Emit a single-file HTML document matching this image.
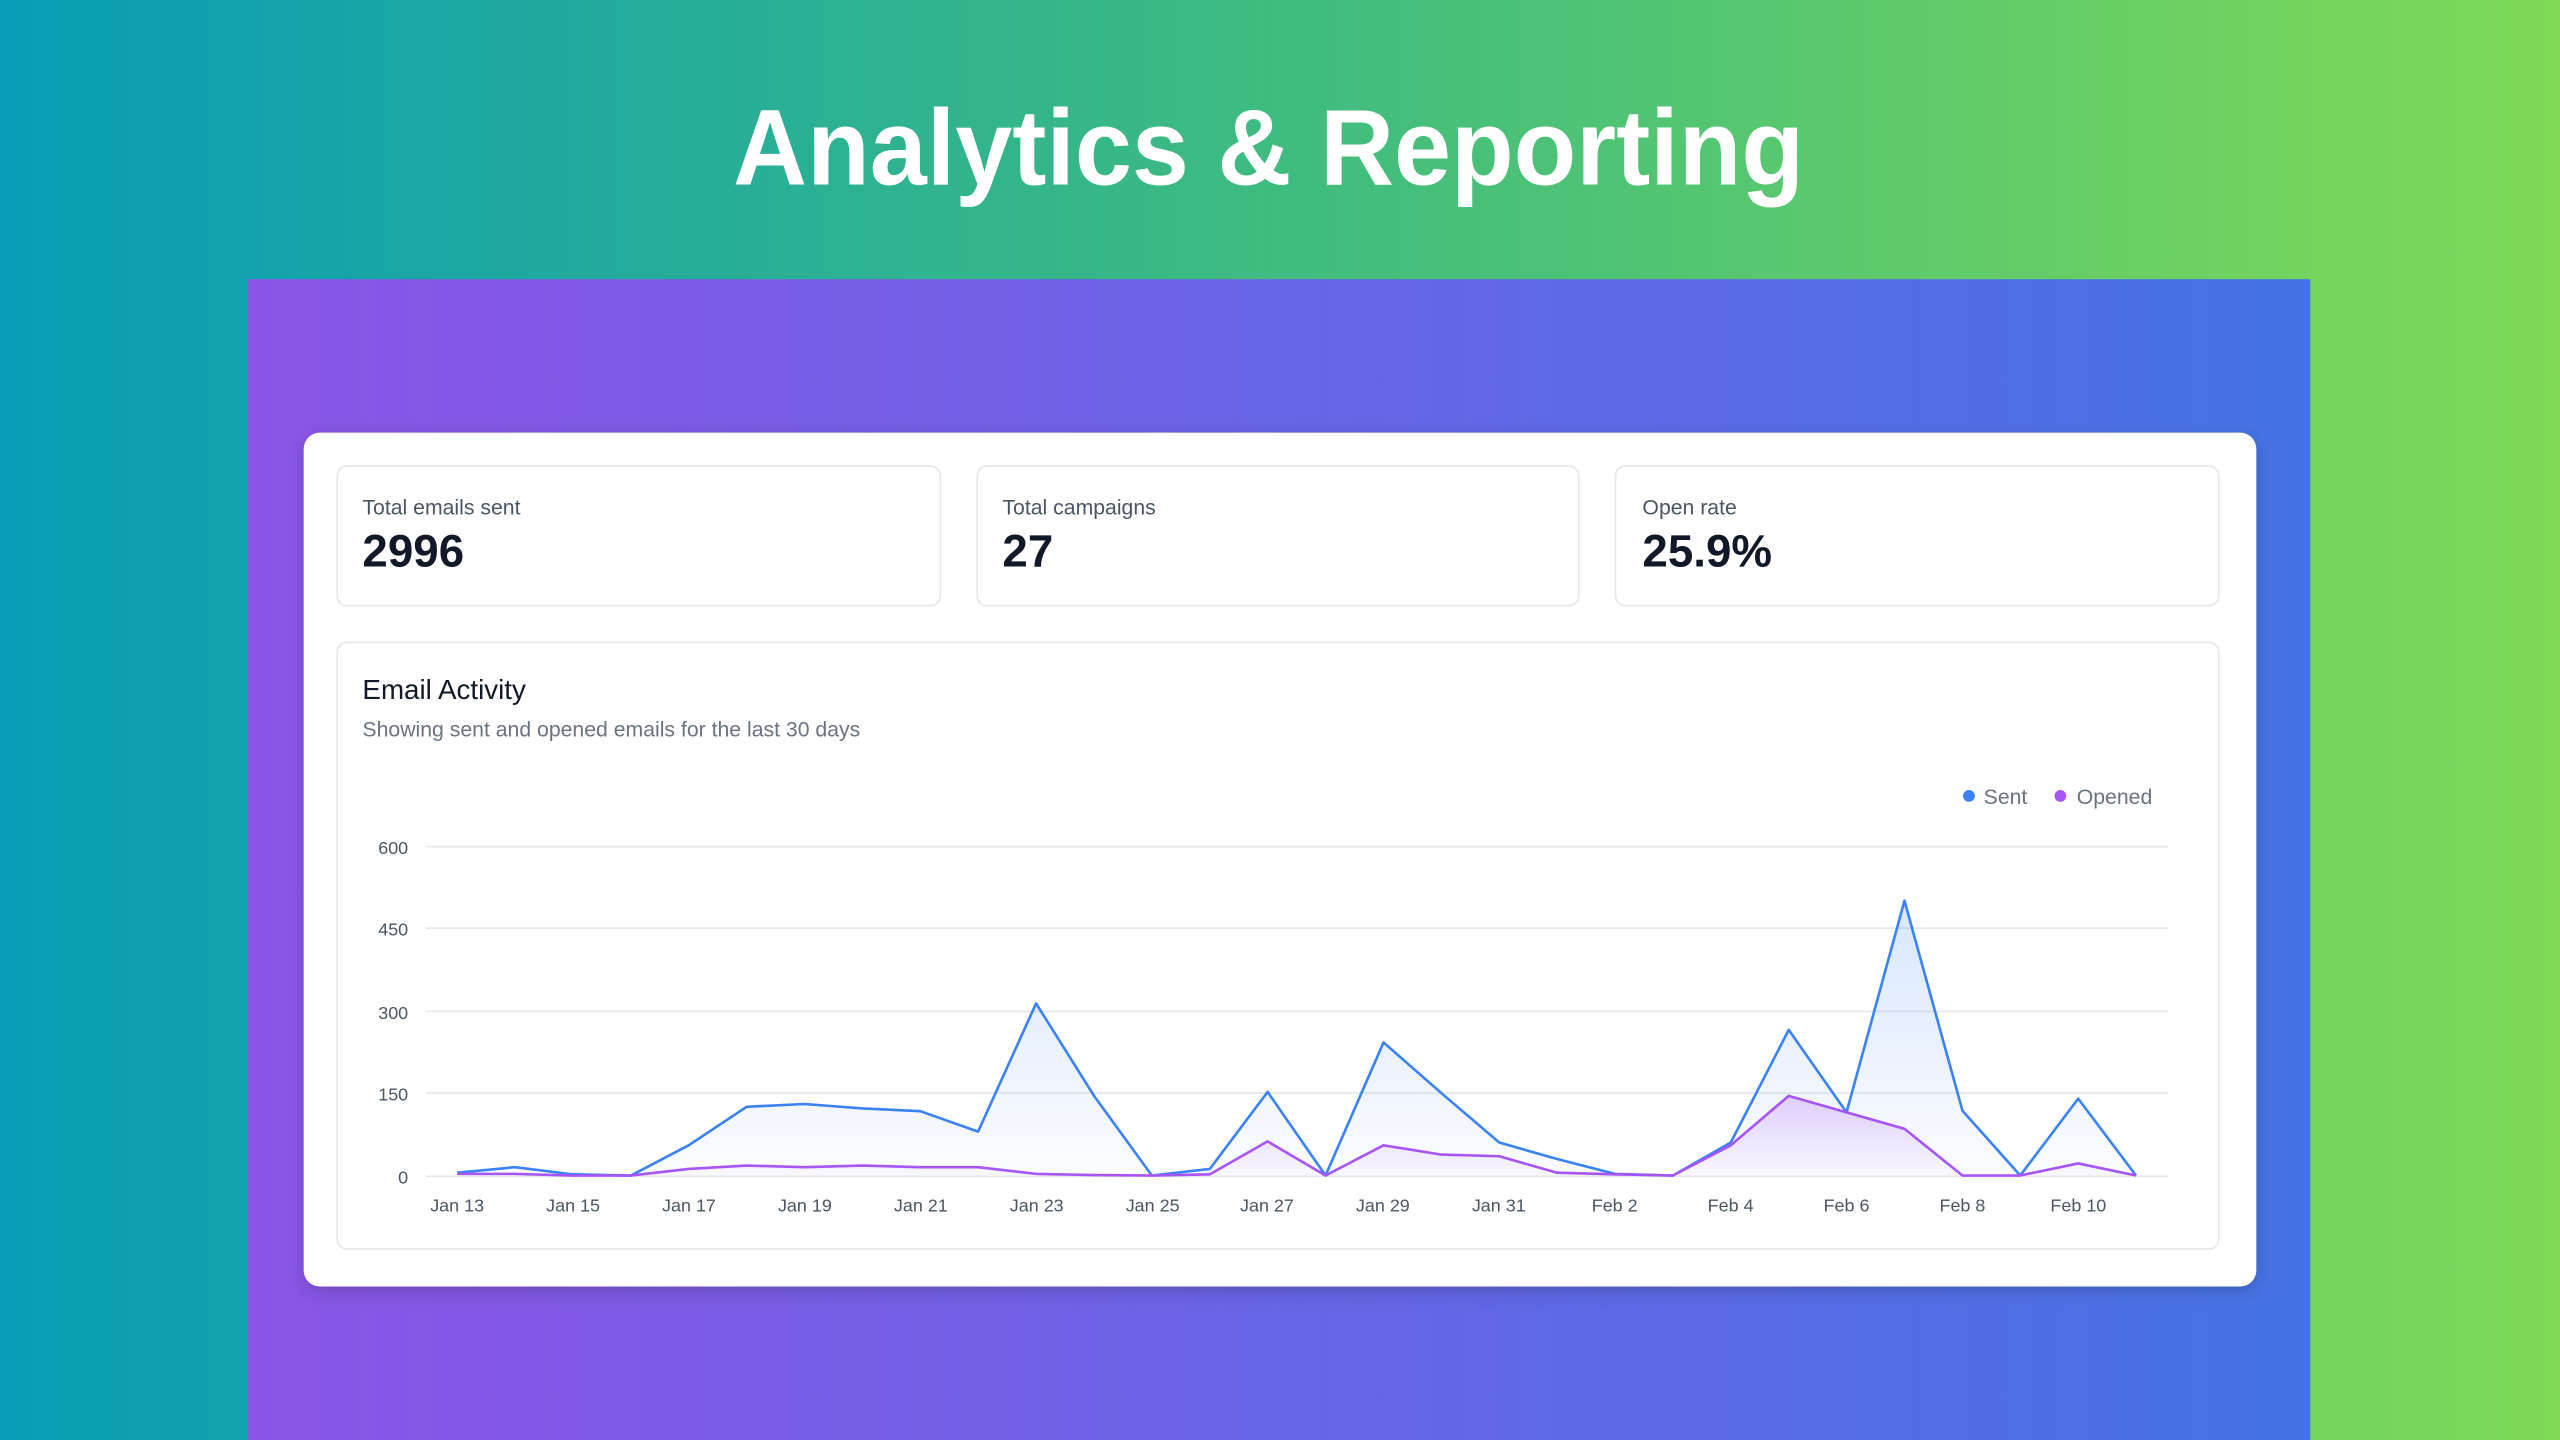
<!DOCTYPE html>
<html><head><meta charset="utf-8"><style>
html,body{margin:0;padding:0;width:2560px;height:1440px;overflow:hidden}
svg{display:block}
text{font-family:"Liberation Sans",sans-serif}
</style></head><body>
<svg width="2560" height="1440" viewBox="0 0 1568 882" xmlns="http://www.w3.org/2000/svg">
<defs>
<linearGradient id="bg" x1="0" y1="0" x2="1" y2="0"><stop offset="0" stop-color="#089cb6"/><stop offset="0.5" stop-color="#3fbc80"/><stop offset="1" stop-color="#7fd956"/></linearGradient>
<linearGradient id="pp" x1="0" y1="0" x2="1" y2="0"><stop offset="0" stop-color="#8b55e6"/><stop offset="1" stop-color="#4573e4"/></linearGradient>
<linearGradient id="fs" x1="0" y1="0" x2="0" y2="1"><stop offset="0" stop-color="#3b82f6" stop-opacity="0.2"/><stop offset="1" stop-color="#3b82f6" stop-opacity="0.02"/></linearGradient>
<linearGradient id="fo" x1="0" y1="0" x2="0" y2="1"><stop offset="0" stop-color="#a855f7" stop-opacity="0.25"/><stop offset="1" stop-color="#a855f7" stop-opacity="0.03"/></linearGradient>
<filter id="sh" x="-5%" y="-5%" width="110%" height="115%"><feDropShadow dx="0" dy="3" stdDeviation="5" flood-color="#000" flood-opacity="0.18"/></filter>
</defs>
<rect width="1568" height="882" fill="url(#bg)"/>
<text x="777" y="113" text-anchor="middle" font-size="66" font-weight="bold" fill="#fff" textLength="656" lengthAdjust="spacingAndGlyphs">Analytics &amp; Reporting</text>
<rect x="152" y="171" width="1263" height="711" fill="url(#pp)"/>
<rect x="186" y="265" width="1196" height="523" rx="10" fill="#fff" filter="url(#sh)"/>
<g fill="#fff" stroke="#e5e7eb" stroke-width="1">
<rect x="206.5" y="285.5" width="369.5" height="85.5" rx="6"/>
<rect x="598.5" y="285.5" width="368.5" height="85.5" rx="6"/>
<rect x="989.5" y="285.5" width="369.5" height="85.5" rx="6"/>
<rect x="206.5" y="393.5" width="1152.5" height="371.5" rx="6"/>
</g>
<g font-size="13" fill="#4b5563">
<text x="222" y="315">Total emails sent</text>
<text x="614" y="315">Total campaigns</text>
<text x="1006" y="315">Open rate</text>
</g>
<g font-size="28" font-weight="bold" fill="#111827">
<text x="222" y="347">2996</text>
<text x="614" y="347">27</text>
<text x="1006" y="347">25.9%</text>
</g>
<text x="222" y="428" font-size="17" fill="#111827">Email Activity</text>
<text x="222" y="451" font-size="13" fill="#6b7280">Showing sent and opened emails for the last 30 days</text>
<circle cx="1206" cy="487.5" r="3.6" fill="#3b82f6"/>
<text x="1215" y="492.5" font-size="13" fill="#6b7280">Sent</text>
<circle cx="1262" cy="487.5" r="3.6" fill="#a855f7"/>
<text x="1272" y="492.5" font-size="13" fill="#6b7280">Opened</text>
<g stroke="#e5e7eb" stroke-width="1">
<line x1="261" y1="518.5" x2="1328" y2="518.5"/>
<line x1="261" y1="568.5" x2="1328" y2="568.5"/>
<line x1="261" y1="619.5" x2="1328" y2="619.5"/>
<line x1="261" y1="669.5" x2="1328" y2="669.5"/>
<line x1="261" y1="720.5" x2="1328" y2="720.5"/>
</g>
<g font-size="11" fill="#4b5563" text-anchor="end">
<text x="250" y="523">600</text><text x="250" y="573">450</text><text x="250" y="624">300</text><text x="250" y="674">150</text><text x="250" y="725">0</text>
</g>
<g font-size="11" fill="#4b5563" text-anchor="middle">
<text x="280" y="742">Jan 13</text><text x="351" y="742">Jan 15</text><text x="422" y="742">Jan 17</text><text x="493" y="742">Jan 19</text><text x="564" y="742">Jan 21</text><text x="635" y="742">Jan 23</text><text x="706" y="742">Jan 25</text><text x="776" y="742">Jan 27</text><text x="847" y="742">Jan 29</text><text x="918" y="742">Jan 31</text><text x="989" y="742">Feb 2</text><text x="1060" y="742">Feb 4</text><text x="1131" y="742">Feb 6</text><text x="1202" y="742">Feb 8</text><text x="1273" y="742">Feb 10</text>
</g>
<polygon fill="url(#fs)" points="280,720 280,718.3 315.5,714.9 350.9,719.3 386.4,720 421.8,701.5 457.3,677.9 492.8,676.2 528.2,678.9 563.7,680.6 599.1,693.1 634.6,614.6 670.1,671.2 705.5,720 741,716 776.4,668.8 811.9,720 847.4,638.5 882.8,669.5 918.3,699.8 953.7,709.9 989.2,719 1024.7,720 1060.1,699.8 1095.6,630.8 1131,681.3 1166.5,551.7 1202,680.3 1237.4,720 1272.9,672.9 1308.3,720"/>
<polygon fill="url(#fo)" points="280,720 280,719 315.5,719 350.9,720 386.4,720 421.8,716 457.3,713.9 492.8,714.9 528.2,713.9 563.7,714.9 599.1,714.9 634.6,719 670.1,719.7 705.5,720 741,719.3 776.4,699.1 811.9,720 847.4,701.5 882.8,707.2 918.3,708.2 953.7,718.3 989.2,719.3 1024.7,720 1060.1,701.5 1095.6,671.2 1131,681.3 1166.5,691.4 1202,720 1237.4,720 1272.9,712.6 1308.3,720"/>
<polyline fill="none" stroke="#3b82f6" stroke-width="1.6" stroke-linejoin="round" points="280,718.3 315.5,714.9 350.9,719.3 386.4,720 421.8,701.5 457.3,677.9 492.8,676.2 528.2,678.9 563.7,680.6 599.1,693.1 634.6,614.6 670.1,671.2 705.5,720 741,716 776.4,668.8 811.9,720 847.4,638.5 882.8,669.5 918.3,699.8 953.7,709.9 989.2,719 1024.7,720 1060.1,699.8 1095.6,630.8 1131,681.3 1166.5,551.7 1202,680.3 1237.4,720 1272.9,672.9 1308.3,720"/>
<polyline fill="none" stroke="#a855f7" stroke-width="1.6" stroke-linejoin="round" points="280,719 315.5,719 350.9,720 386.4,720 421.8,716 457.3,713.9 492.8,714.9 528.2,713.9 563.7,714.9 599.1,714.9 634.6,719 670.1,719.7 705.5,720 741,719.3 776.4,699.1 811.9,720 847.4,701.5 882.8,707.2 918.3,708.2 953.7,718.3 989.2,719.3 1024.7,720 1060.1,701.5 1095.6,671.2 1131,681.3 1166.5,691.4 1202,720 1237.4,720 1272.9,712.6 1308.3,720"/>
</svg>
</body></html>
